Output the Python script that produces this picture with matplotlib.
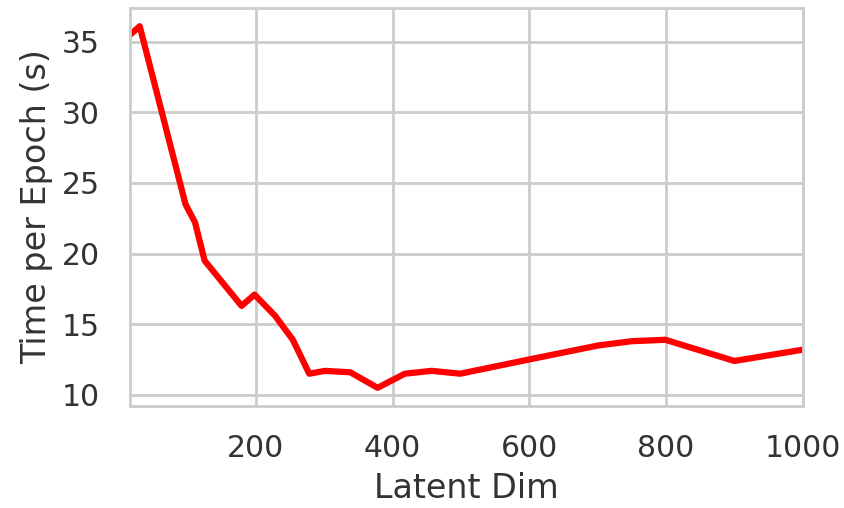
import matplotlib.pyplot as plt
import seaborn as sns

latent_dim = [16, 30, 97, 111, 125, 179, 198, 228, 254, 278, 301, 338, 378,
              418, 457, 499, 599, 701, 750, 799, 900, 1000]
time_per_epoch = [35.5, 36.1, 23.5, 22.2, 19.5, 16.3, 17.1, 15.6, 13.9, 11.5,
                  11.7, 11.6, 10.5, 11.5, 11.7, 11.5, 12.5, 13.5, 13.8, 13.9,
                  12.4, 13.2]

sns.set_theme(style="whitegrid")
plt.rcParams['font.family'] = ['DejaVu Sans']

fig = plt.figure(figsize=(8.45, 5.08), dpi=100)
ax = fig.add_axes([0.154, 0.201, 0.796, 0.783])
ax.plot(latent_dim, time_per_epoch, color='red', linewidth=4.5)
ax.set_xlim(min(latent_dim), max(latent_dim))
ax.set_xticks([200, 400, 600, 800, 1000])
ax.set_yticks([10, 15, 20, 25, 30, 35])
ax.tick_params(labelsize=21.5, colors='#333333', length=0)
ax.tick_params(axis='x', pad=20)
ax.tick_params(axis='y', pad=22)
ax.set_xlabel('Latent Dim', fontsize=24, color='#333333', labelpad=7)
ax.set_ylabel('Time per Epoch (s)', fontsize=24, color='#333333', labelpad=6)
for s in ax.spines.values():
    s.set_color('#cccccc')
    s.set_linewidth(2)
ax.grid(color='#cccccc', linewidth=2)

fig.savefig('out.png')
